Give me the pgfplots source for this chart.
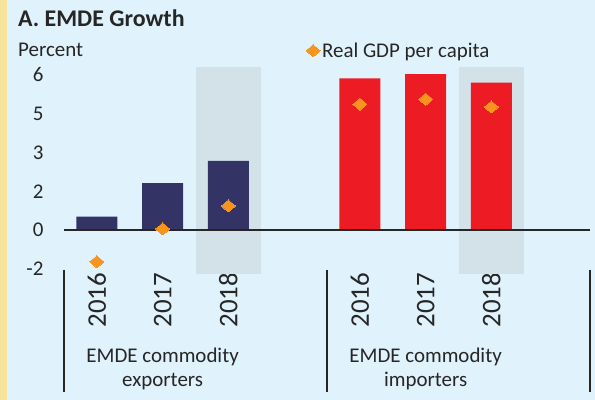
\documentclass[border=0pt]{standalone}
\usepackage{fontspec}
\setmainfont{Carlito}
\usepackage{pgfplots}
\pgfplotsset{compat=1.18}
\definecolor{bgc}{HTML}{E0F2FC}
\definecolor{stripc}{HTML}{F6E49C}
\definecolor{shadec}{HTML}{D3E1E9}
\definecolor{navyc}{HTML}{333366}
\definecolor{redc}{HTML}{ED1C24}
\definecolor{orangec}{HTML}{F7941D}
\definecolor{txt}{HTML}{262626}
\begin{document}
\begin{tikzpicture}
\fill[bgc] (0,0) rectangle (595bp,400bp);
\fill[stripc] (0,0) rectangle (7bp,400bp);
\node[anchor=base west, inner sep=0, font=\fontsize{24}{28}\selectfont\bfseries, text=txt] at (18bp,373bp) {A. EMDE Growth};
\node[anchor=base west, inner sep=0, font=\fontsize{21}{25}\selectfont, text=txt] at (18bp,343bp) {Percent};
\begin{axis}[
  at={(64bp,126.1bp)}, anchor=south west,
  scale only axis, width=526bp, height=206.7bp,
  xmin=-0.5, xmax=7.5, ymin=-1.7, ymax=6.3,
  axis line style={draw=none},
  major tick length=0pt,
  xtick={0,1,2,4,5,6},
  xticklabels={2016,2017,2018,2016,2017,2018},
  ytick={-1.5,0,1.5,3,4.5,6},
  yticklabels={-2,0,2,3,5,6},
  xticklabel shift=-2bp,
  xticklabel style={rotate=90, anchor=east, inner sep=1bp, font=\fontsize{27}{32}\selectfont, text=txt},
  yticklabel style={font=\fontsize{21}{25}\selectfont, text=txt, xshift=-17bp},
  clip=false,
  legend style={at={(0.46,1.08)}, anchor=west, draw=none, fill=none,
    font=\fontsize{21}{25}\selectfont, text=txt, inner xsep=0pt, inner ysep=0pt},
  legend image code/.code={\draw[mark repeat=2,mark phase=2,#1] plot coordinates {(0cm,0cm)(0.2cm,0cm)(0.4cm,0cm)};},
]
\fill[shadec] (axis cs:1.5,-1.7) rectangle (axis cs:2.5,6.3);
\fill[shadec] (axis cs:5.5,-1.7) rectangle (axis cs:6.5,6.3);
\addplot[ybar, bar width=41bp, bar shift=0pt, fill=navyc, draw=none, forget plot]
  coordinates {(0,0.52) (1,1.81) (2,2.67)};
\addplot[ybar, bar width=41bp, bar shift=0pt, fill=redc, draw=none, forget plot]
  coordinates {(4,5.87) (5,6.03) (6,5.70)};
\draw[txt, line width=1.3bp] (axis cs:-0.5,0) -- (axis cs:7.5,0);
\addplot[only marks, color=orangec, mark=diamond*, mark size=6bp, mark options={fill=orangec, draw=orangec, line width=0pt, xscale=1.55}]
  coordinates {(0,-1.23) (1,0.04) (2,0.93) (4,4.87) (5,5.06) (6,4.76)};
\addlegendentry{Real GDP per capita}
\draw[txt, line width=1.3bp] (axis cs:-0.5,-1.53) -- ([yshift=-122bp]axis cs:-0.5,-1.53);
\draw[txt, line width=1.3bp] (axis cs:3.5,-1.53) -- ([yshift=-122bp]axis cs:3.5,-1.53);
\draw[txt, line width=1.3bp] (axis cs:7.5,-1.53) -- ([yshift=-122bp]axis cs:7.5,-1.53);
\node[anchor=base, inner sep=0, font=\fontsize{21}{25}\selectfont, text=txt] at ([yshift=-89bp]axis cs:1,-1.7) {EMDE commodity};
\node[anchor=base, inner sep=0, font=\fontsize{21}{25}\selectfont, text=txt] at ([yshift=-113bp]axis cs:1,-1.7) {exporters};
\node[anchor=base, inner sep=0, font=\fontsize{21}{25}\selectfont, text=txt] at ([yshift=-89bp]axis cs:5,-1.7) {EMDE commodity};
\node[anchor=base, inner sep=0, font=\fontsize{21}{25}\selectfont, text=txt] at ([yshift=-113bp]axis cs:5,-1.7) {importers};
\end{axis}
\pgfresetboundingbox
\path[use as bounding box] (0,0) rectangle (595bp,400bp);
\end{tikzpicture}
\end{document}
